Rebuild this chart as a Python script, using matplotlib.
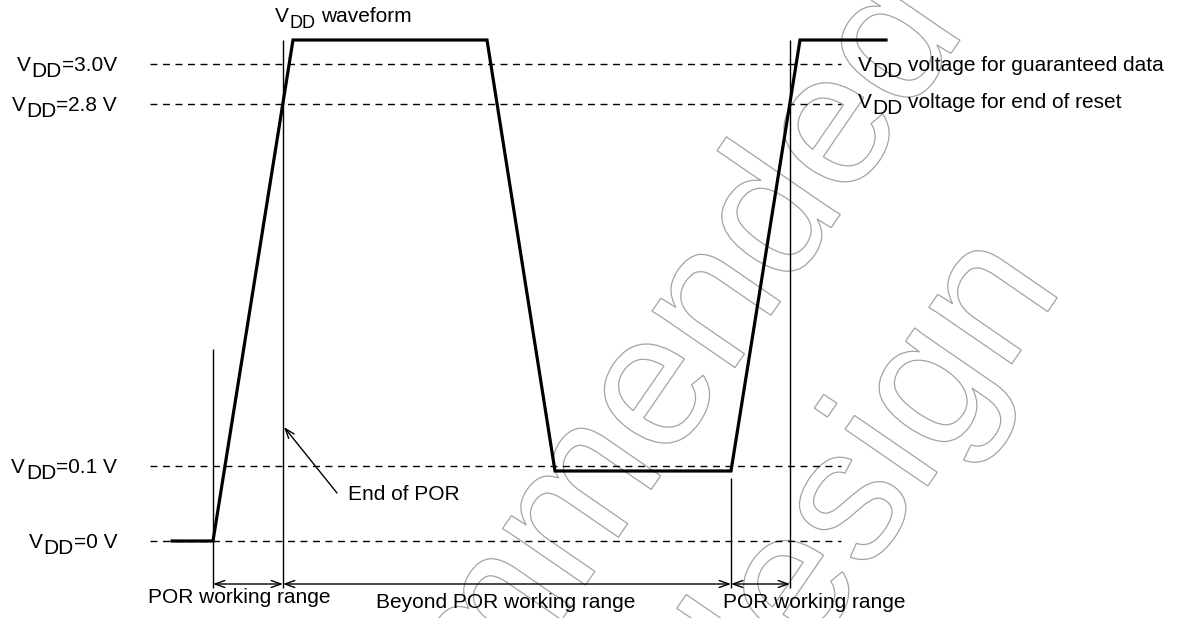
import matplotlib
matplotlib.use("Agg")
import matplotlib.pyplot as plt
from matplotlib.textpath import TextPath
from matplotlib.patches import PathPatch
from matplotlib.font_manager import FontProperties
from matplotlib.transforms import Affine2D

plt.rcParams['font.family'] = ['Liberation Sans', 'DejaVu Sans']
plt.rcParams['lines.scale_dashes'] = False

# voltage reference levels (schematic y positions on the drawing)
level_text = ['=3.0V', '=2.8 V', '=0.1 V', '=0 V']
level_y = [64, 104, 466, 541]

# VDD waveform corner points
wave_t = [172, 213, 293, 487, 555, 731, 800, 886]
wave_y = [541, 541, 40, 40, 471, 471, 40, 40]

# thin vertical markers
mark_t = [213, 283, 731, 790]
mark_top = [349, 40, 478, 40]
mark_bottom = 588

# range arrows between markers
range_names = ['POR working range', 'Beyond POR working range', 'POR working range']
range_text_x = [148, 376, 723]
range_text_y = [603, 608, 608]
arrow_y = 584

right_text = [' voltage for guaranteed data', ' voltage for end of reset']
right_text_y = [71, 108]

fig = plt.figure(figsize=(11.8, 6.18), dpi=100)
ax = fig.add_axes([0, 0, 1, 1])
ax.set_xlim(0, 1180)
ax.set_ylim(618, 0)
ax.axis('off')

FS = 15
DROP = 4


def vdd_left(x, y, rest, size=FS, rest_size=FS, drop=DROP):
    # V, then lowered DD, then the rest of the text, left aligned
    v = ax.text(x, y, 'V', fontsize=size, ha='left', va='baseline')
    dd = ax.annotate('DD', xy=(1, 0), xycoords=v, xytext=(0.5, -drop),
                     textcoords='offset points', fontsize=rest_size, ha='left', va='bottom')
    if rest:
        ax.annotate(rest.strip(), xy=(1, 0), xycoords=dd, xytext=(4, drop),
                    textcoords='offset points', fontsize=size, ha='left', va='bottom')


def vdd_right(x, y, rest, size=FS, drop=DROP):
    r = ax.text(x, y, rest, fontsize=size, ha='right', va='baseline')
    dd = ax.annotate('DD', xy=(0, 0), xycoords=r, xytext=(0, -drop),
                     textcoords='offset points', fontsize=size, ha='right', va='bottom')
    ax.annotate('V', xy=(0, 0), xycoords=dd, xytext=(-0.5, drop),
                textcoords='offset points', fontsize=size, ha='right', va='bottom')


# watermark (outlined text)
fp = FontProperties(family='Liberation Sans')
wm_lines = ['Not recommended', 'for new design']
wm_base = [64, -162]
for s, b in zip(wm_lines, wm_base):
    tp = TextPath((0, 0), s, size=190, prop=fp)
    ext = tp.get_extents()
    cx = ext.x0 + ext.width / 2
    tr = Affine2D().translate(-cx, b).rotate_deg(55.5).scale(1, -1).translate(578, 709)
    ax.add_patch(PathPatch(tr.transform_path(tp), fc='none', ec='#a3a3a3', lw=0.9, zorder=1))

# dashed level lines
ax.hlines(level_y, 150, 841, colors='black', linewidth=1.0,
          linestyles=(0, (5, 4)), zorder=2)

# vertical markers
ax.vlines(mark_t, mark_top, mark_bottom, colors='black', linewidth=1.0, zorder=2)

# waveform
ax.plot(wave_t, wave_y, color='black', linewidth=2.3, solid_joinstyle='miter', zorder=3)

# range arrows
for i in range(len(mark_t) - 1):
    ax.annotate('', xy=(mark_t[i], arrow_y), xytext=(mark_t[i + 1], arrow_y),
                arrowprops=dict(arrowstyle='<->,head_length=0.7,head_width=0.25',
                                color='black', lw=1.0, shrinkA=0, shrinkB=0))
for name, x, y in zip(range_names, range_text_x, range_text_y):
    ax.text(x, y, name, fontsize=FS, ha='left', va='baseline')

# End of POR pointer
ax.annotate('', xy=(284, 427), xytext=(337, 493),
            arrowprops=dict(arrowstyle='->,head_length=0.7,head_width=0.25',
                            color='black', lw=1.0, shrinkA=0, shrinkB=0))
ax.text(348, 500, 'End of POR', fontsize=FS, ha='left', va='baseline')

# level labels on the left
for txt, y in zip(level_text, level_y):
    vdd_right(117, y + 7, txt)

# labels on the right
for txt, y in zip(right_text, right_text_y):
    vdd_left(858, y, txt)

# waveform title
vdd_left(275, 22, ' waveform', size=FS, rest_size=13, drop=DROP)

fig.savefig('out.png', dpi=100)
